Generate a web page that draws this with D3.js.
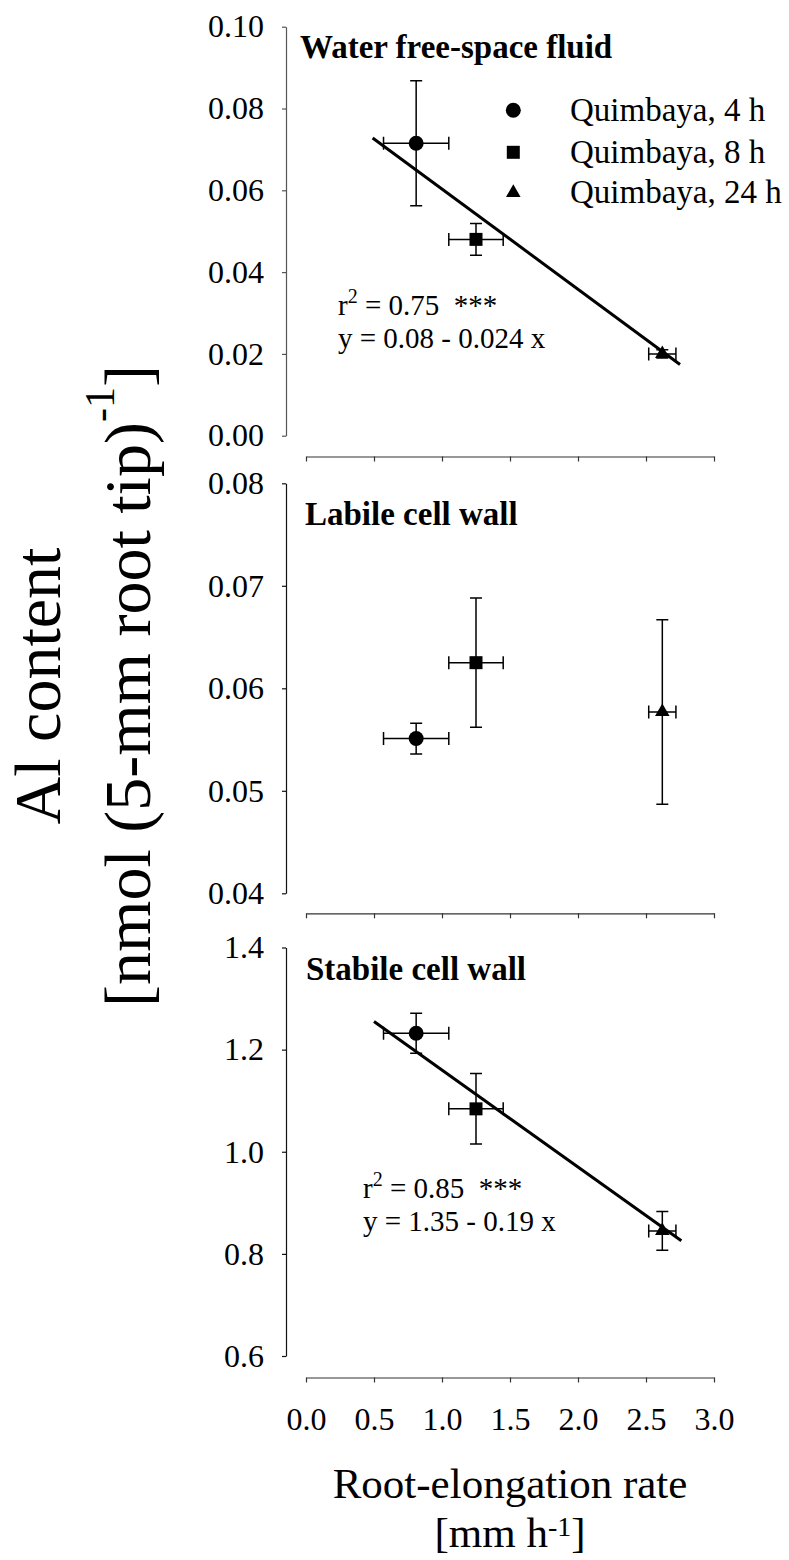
<!DOCTYPE html>
<html>
<head>
<meta charset="utf-8">
<script src="https://cdn.jsdelivr.net/npm/d3@7"></script>
<style>
  body { margin: 0; background: #fff; }
  svg { display: block; }
  text { font-family: "Liberation Serif", "Times New Roman", Times, serif; fill: #000; }
</style>
</head>
<body>
<svg id="chart" width="789" height="1560"></svg>
<script>
// Harvest times (legend entries) and root-elongation rate per harvest [mm h-1]
const treatments = ["Quimbaya, 4 h", "Quimbaya, 8 h", "Quimbaya, 24 h"];
const elongation = [0.81, 1.25, 2.62];
const elongationSE = [0.24, 0.20, 0.10];

// Al content per fraction [nmol (5-mm root tip)-1], mean and SE
const freeSpaceAl = [0.0715, 0.0480, 0.0200];
const freeSpaceSE = [0.0153, 0.0039, 0.0010];
const labileAl = [0.0551, 0.0625, 0.0577];
const labileSE = [0.0015, 0.0063, 0.0090];
const stabileAl = [1.232, 1.084, 0.845];
const stabileSE = [0.039, 0.069, 0.038];

// Linear fits [intercept, slope] and the x extent of each fitted line
const freeSpaceFit = [0.0848, -0.0245];
const stabileFit = [1.35, -0.19];
const freeSpaceFitExtent = [0.49, 2.75];
const stabileFitExtent = [0.50, 2.76];
const freeSpaceStats = ["0.75", "y = 0.08 - 0.024 x"];
const stabileStats = ["0.85", "y = 1.35 - 0.19 x"];

// Tick values
const xTicks = [0, 0.5, 1.0, 1.5, 2.0, 2.5, 3.0];
const freeSpaceTicks = [0, 0.02, 0.04, 0.06, 0.08, 0.10];
const labileTicks = [0.04, 0.05, 0.06, 0.07, 0.08];
const stabileTicks = [0.6, 0.8, 1.0, 1.2, 1.4];

const svg = d3.select("#chart");
const yAxisX = 286;
const x = d3.scaleLinear().domain([0, 3]).range([306, 714]);

const shapes = [d3.symbolCircle, d3.symbolSquare, d3.symbolTriangle];
const shapeSizes = [177, 169, 92];

const panels = [
  {
    title: "Water free-space fluid", titlePos: [300, 58],
    values: freeSpaceAl, se: freeSpaceSE,
    domain: [0, 0.10], range: [435.7, 26.7], ticks: freeSpaceTicks, fmt: d3.format(".2f"),
    xAxisY: 456.5, axisColor: "#555",
    fit: freeSpaceFit, fitExtent: freeSpaceFitExtent, stats: freeSpaceStats, statsPos: [338, 315]
  },
  {
    title: "Labile cell wall", titlePos: [305, 525],
    values: labileAl, se: labileSE,
    domain: [0.04, 0.08], range: [893.3, 483.3], ticks: labileTicks, fmt: d3.format(".2f"),
    xAxisY: 913.3, axisColor: "#111"
  },
  {
    title: "Stabile cell wall", titlePos: [306, 980],
    values: stabileAl, se: stabileSE,
    domain: [0.6, 1.4], range: [1356, 947.5], ticks: stabileTicks, fmt: d3.format(".1f"),
    xAxisY: 1377.5, axisColor: "#111", showXLabels: true,
    fit: stabileFit, fitExtent: stabileFitExtent, stats: stabileStats, statsPos: [363, 1198]
  }
];

panels.forEach(p => {
  const y = d3.scaleLinear().domain(p.domain).range(p.range);
  const g = svg.append("g");

  // y axis
  const ya = g.append("g")
    .attr("transform", `translate(${yAxisX},0)`)
    .call(d3.axisLeft(y).tickValues(p.ticks).tickFormat(p.fmt)
      .tickSize(4).tickSizeOuter(0).tickPadding(18));
  ya.selectAll("path, line").attr("stroke", p.axisColor).attr("stroke-width", 1.2);
  ya.selectAll("text").attr("font-size", 32).attr("fill", "#000")
    .attr("font-family", "'Liberation Serif', 'Times New Roman', serif");

  // x axis
  const xa = g.append("g")
    .attr("transform", `translate(0,${p.xAxisY})`)
    .call(d3.axisBottom(x).tickValues(xTicks)
      .tickFormat(p.showXLabels ? d3.format(".1f") : () => "")
      .tickSize(5).tickSizeOuter(0).tickPadding(25));
  xa.selectAll("path, line").attr("stroke", "#333").attr("stroke-width", 1.2);
  xa.selectAll("text").attr("font-size", 32).attr("fill", "#000")
    .attr("font-family", "'Liberation Serif', 'Times New Roman', serif");

  // panel title
  g.append("text")
    .attr("x", p.titlePos[0]).attr("y", p.titlePos[1])
    .attr("font-size", 33).attr("font-weight", "bold")
    .text(p.title);

  // regression line with its statistics
  if (p.fit) {
    const line = d3.line().x(d => x(d)).y(d => y(p.fit[0] + p.fit[1] * d));
    g.append("path")
      .attr("d", line(p.fitExtent))
      .attr("fill", "none").attr("stroke", "#000").attr("stroke-width", 3);

    const st = g.append("text")
      .attr("x", p.statsPos[0]).attr("y", p.statsPos[1])
      .attr("font-size", 29);
    st.append("tspan").text("r");
    st.append("tspan").attr("font-size", 20).attr("dy", -12).text("2");
    st.append("tspan").attr("dy", 12).text(" = " + p.stats[0] + "\u00a0\u00a0***");
    g.append("text")
      .attr("x", p.statsPos[0]).attr("y", p.statsPos[1] + 33)
      .attr("font-size", 29)
      .text(p.stats[1]);
  }

  // error bars (both directions, capped)
  const capV = 6, capH = 6.5;
  const eb = g.append("g").attr("stroke", "#000").attr("stroke-width", 1.5).attr("fill", "none");
  p.values.forEach((v, i) => {
    const cx = x(elongation[i]);
    const cy = y(v);
    const y0 = y(v - p.se[i]), y1 = y(v + p.se[i]);
    const x0 = x(elongation[i] - elongationSE[i]), x1 = x(elongation[i] + elongationSE[i]);
    eb.append("path").attr("d",
      `M${cx},${y0}V${y1}M${cx - capV},${y0}H${cx + capV}M${cx - capV},${y1}H${cx + capV}` +
      `M${x0},${cy}H${x1}M${x0},${cy - capH}V${cy + capH}M${x1},${cy - capH}V${cy + capH}`);
  });

  // markers
  g.append("g").selectAll("path.marker")
    .data(p.values)
    .join("path")
    .attr("class", "marker")
    .attr("transform", (v, i) => `translate(${x(elongation[i])},${y(v)})`)
    .attr("d", (v, i) => d3.symbol(shapes[i], shapeSizes[i])())
    .attr("fill", "#000");
});

// legend
const legendY = [110.3, 152.3, 192.7];
const legend = svg.append("g");
treatments.forEach((t, i) => {
  legend.append("path")
    .attr("transform", `translate(513.3,${legendY[i]})`)
    .attr("d", d3.symbol(shapes[i], shapeSizes[i])())
    .attr("fill", "#000");
  legend.append("text")
    .attr("x", 570).attr("y", legendY[i] + 10.5)
    .attr("font-size", 33)
    .text(t);
});

// y-axis title
svg.append("text")
  .attr("transform", "translate(60,686) rotate(-90)")
  .attr("text-anchor", "middle")
  .attr("font-size", 66)
  .text("Al content");
const yt2 = svg.append("text")
  .attr("transform", "translate(150,686) rotate(-90)")
  .attr("text-anchor", "middle")
  .attr("font-size", 66);
yt2.append("tspan").text("[nmol (5-mm root tip)");
yt2.append("tspan").attr("font-size", 42).attr("dy", -36).text("-1");
yt2.append("tspan").attr("dy", 36).text("]");

// x-axis title
svg.append("text")
  .attr("x", 510).attr("y", 1498)
  .attr("text-anchor", "middle")
  .attr("font-size", 43)
  .text("Root-elongation rate");
const xt2 = svg.append("text")
  .attr("x", 510).attr("y", 1547)
  .attr("text-anchor", "middle")
  .attr("font-size", 43);
xt2.append("tspan").text("[mm h");
xt2.append("tspan").attr("font-size", 28).attr("dy", -11).text("-1");
xt2.append("tspan").attr("dy", 11).text("]");
</script>
</body>
</html>
